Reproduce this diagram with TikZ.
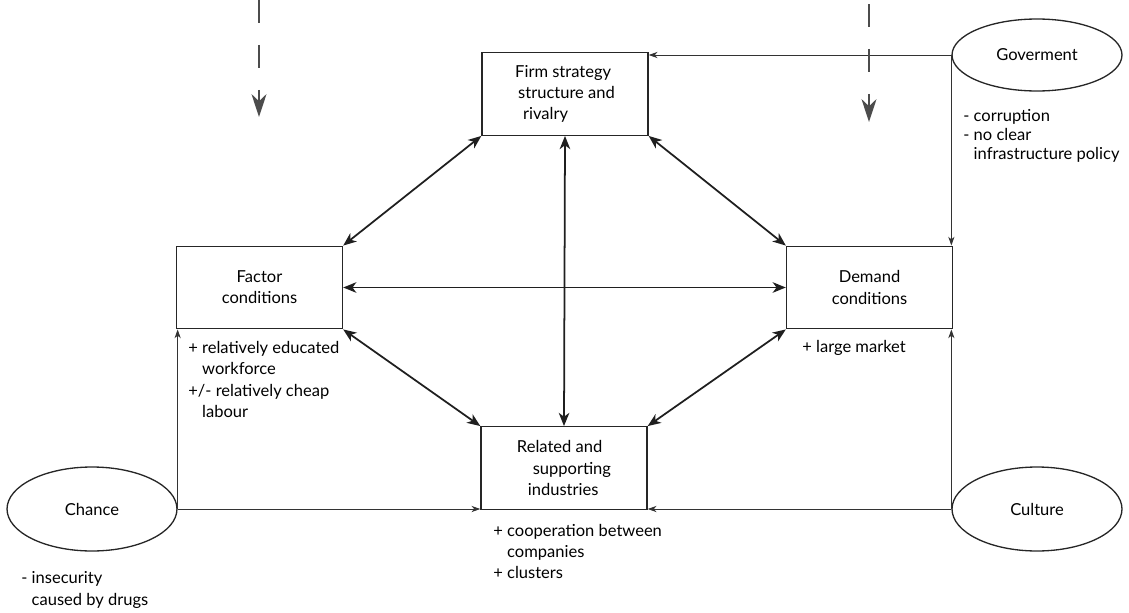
\documentclass[tikz,border=0pt]{standalone}
\usepackage{fontspec}
\setmainfont{Lato}
\usetikzlibrary{shapes.geometric,arrows.meta}
\begin{document}
\begin{tikzpicture}[x=0.02cm,y=-0.02cm,
  every node/.style={font=\fontsize{9.4}{12.1}\selectfont, text=black},
  box/.style={draw=black!85, line width=0.8pt, rectangle, minimum width=3.32cm, minimum height=1.65cm, inner sep=0pt, align=center},
  oval/.style={draw=black!85, line width=0.75pt, ellipse, minimum width=3.4cm, minimum height=1.68cm, inner sep=0pt},
  note/.style={align=left, inner sep=0pt, anchor=west},
  link/.style={draw=black!88, line width=1pt, {Stealth[length=7.5pt,width=6pt,inset=2.2pt]}-{Stealth[length=7.5pt,width=6pt,inset=2.2pt]}},
  feed/.style={draw=black!80, line width=0.5pt, -{Stealth[length=5pt,width=3.5pt,inset=1.5pt]}},
  shock/.style={draw=black!70, line width=1.1pt, dash pattern=on 0.46cm off 0.44cm, -{Stealth[length=13pt,width=8.5pt,inset=4pt]}}
]
\useasboundingbox (0,0) rectangle (1129,612);

% boxes
\node[box, align=left] (firm) at (565,94) {Firm strategy\\\hspace*{1.7pt}structure and\\\hspace*{4.5pt}rivalry};
\node[box] (factor) at (259.5,287.5) {Factor\\conditions};
\node[box] (demand) at (869.5,287.5) {Demand\\conditions};
\node[box, align=left] (related) at (564,468) {Related and\\\hspace*{9pt}supporting\\\hspace*{6.2pt}industries};

% ovals
\node[oval, minimum height=1.44cm] (gov) at (1037,55) {Goverment};
\node[oval] (chance) at (92,509) {Chance};
\node[oval] (culture) at (1037,509) {Culture};

% notes
\node[note, font=\fontsize{9.4}{10.9}\selectfont] (govnote) at (963,136) {- corruption\\- no clear\\\phantom{- }infrastructure policy};
\node[note] (factornote) at (188,379.5) {+ relatively educated\\\phantom{+ }workforce\\+/- relatively cheap\\\phantom{+ }labour};
\node[note] (demandnote) at (802,348) {+ large market};
\node[note] (relnote) at (493,551.5) {+ cooperation between\\\phantom{+ }companies\\+ clusters};
\node[note] (chancenote) at (21,590) {- insecurity\\\phantom{- }caused by drugs};

% diamond of links
\draw[link] (firm.south west) -- (factor.north east);
\draw[link] (firm.south east) -- (demand.north west);
\draw[link] (factor.south east) -- (related.north west);
\draw[link] (demand.south west) -- (related.north east);
\draw[link] (factor.east) -- (demand.west);
\draw[link] (firm.south) -- (related.north);

% outside influences
\draw[feed] (gov.west) -- (gov.west -| firm.east);
\draw[feed] (gov.west) -- (gov.west |- demand.north);
\draw[feed] (culture.west) -- (culture.west |- demand.south);
\draw[feed] (culture.west) -- (culture.west -| related.east);
\draw[feed] (chance.east) -- (chance.east -| related.west);
\draw[feed] (chance.east) -- (chance.east |- factor.south);

% dashed arrows from above
\coordinate (s1) at (259,0);
\coordinate (e1) at (259,117);
\coordinate (s2) at (869,4);
\coordinate (e2) at (869,122);
\draw[shock] (s1) -- (e1);
\draw[shock] (s2) -- (e2);
\end{tikzpicture}
\end{document}
